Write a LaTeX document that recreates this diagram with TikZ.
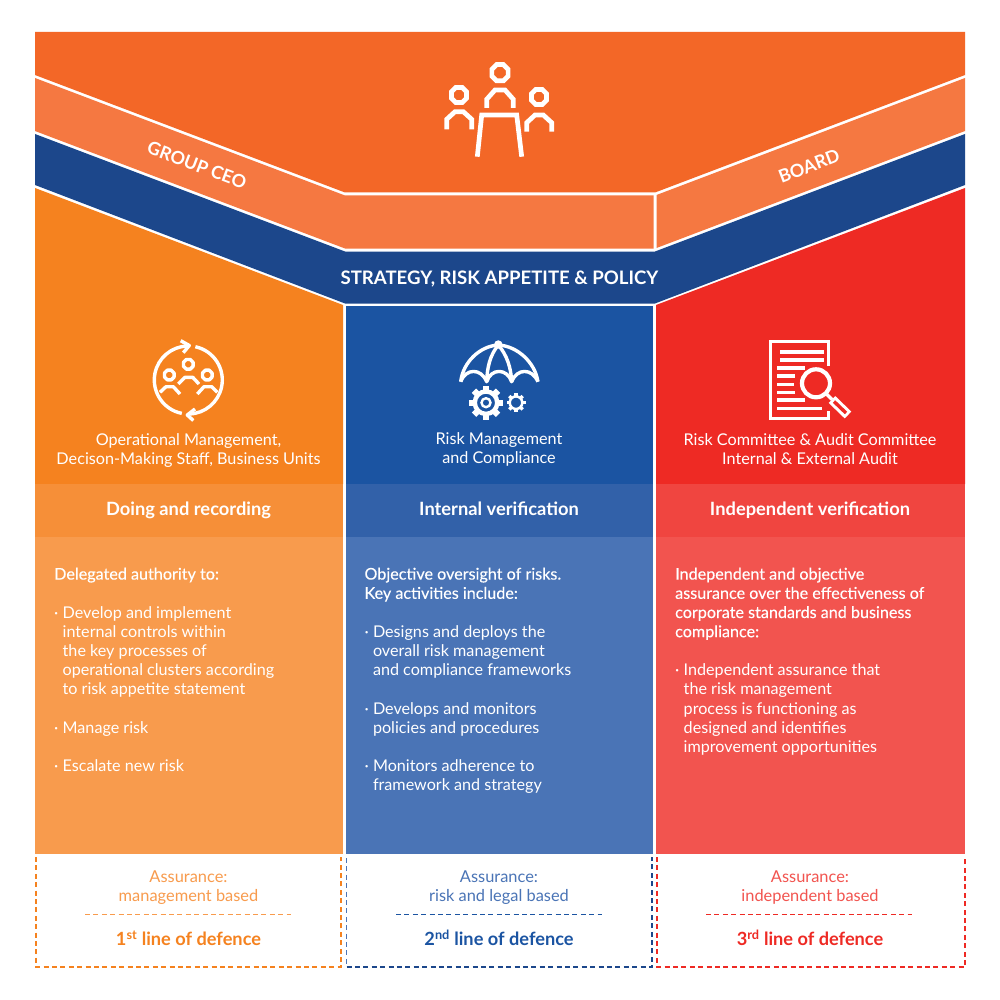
\documentclass[tikz,border=0pt]{standalone}
\usepackage{fontspec}
\setmainfont{Lato}
\newfontfamily\medfont[FakeBold=0.25]{Lato}
\definecolor{topor}{HTML}{F36727}
\definecolor{bandor}{HTML}{F57841}
\definecolor{bandbl}{HTML}{1C478B}
\definecolor{orA}{HTML}{F5821F}
\definecolor{orB}{HTML}{F68F38}
\definecolor{orC}{HTML}{F89B4D}
\definecolor{blA}{HTML}{1B54A2}
\definecolor{blB}{HTML}{3261A9}
\definecolor{blC}{HTML}{4A74B6}
\definecolor{reA}{HTML}{EE2A24}
\definecolor{reB}{HTML}{F04540}
\definecolor{reC}{HTML}{F2544F}
\tikzset{
  x=1pt,y=-1pt,
  icon/.style={draw=white,line width=4.7pt,miter limit=3},
  iconthin/.style={draw=white,line width=3.4pt,line join=round},
  bodytxt/.style={anchor=north west,inner sep=0pt,text=white,align=left,font=\fontsize{16.15}{19.2}\selectfont},
  subtxt/.style={inner sep=0pt,text=white,align=center,font=\fontsize{16.2}{19}\selectfont},
  headtxt/.style={inner sep=0pt,text=white,text height=13pt,text depth=4pt,font=\fontsize{18.3}{20}\selectfont\bfseries},
  asstxt/.style={inner sep=0pt,align=center,font=\fontsize{16.4}{19}\selectfont},
  linetxt/.style={inner sep=0pt,font=\fontsize{18.2}{20}\selectfont\bfseries},
  bandtxt/.style={inner sep=0pt,text=white,font=\fontsize{18.6}{20}\selectfont\bfseries},
  angletxt/.style={inner sep=0pt,text=white,font=\fontsize{18}{20}\selectfont\bfseries},
  dashbox/.style={line width=1.3pt,dash pattern=on 5pt off 3.4pt},
}
\newcommand{\blt}{\makebox[8.5pt][l]{·}}
\newcommand{\ind}{\hspace*{8.5pt}}
\newcommand{\octring}[4]{% x y r style
  \draw[#4] (#1,#2) +(22.5:#3pt) -- +(67.5:#3pt) -- +(112.5:#3pt) -- +(157.5:#3pt) -- +(202.5:#3pt) -- +(247.5:#3pt) -- +(292.5:#3pt) -- +(337.5:#3pt) -- cycle;
}
\newcommand{\gearicon}[4]{% x y r n
  \draw[draw=white,line width=#3*0.26pt] (#1,#2) circle[radius=#3*0.66pt];
  \pgfmathtruncatemacro{\gstep}{360/#4}
  \foreach \ga in {1,...,#4}{
    \draw[draw=white,line width=#3*0.36pt] (#1,#2) ++({\ga*\gstep}:#3*0.66pt) -- ++({\ga*\gstep}:#3*0.34pt);
  }
}
\begin{document}
\begin{tikzpicture}
\useasboundingbox (0,0) rectangle (1000,1000);
\fill[white] (0,0) rectangle (1000,1000);
% top bands
\fill[topor] (35,32) -- (965,32) -- (965,75) -- (655,192.5) -- (345,192.5) -- (35,75) -- cycle;
\fill[bandor] (35,78) -- (345,195.5) -- (653.5,195.5) -- (653.5,248.5) -- (345,248.5) -- (35,131) -- cycle;
\fill[bandor] (656.5,195) -- (965,78) -- (965,131) -- (656.5,248) -- cycle;
\fill[bandbl] (35,134) -- (345,251.5) -- (655,251.5) -- (965,134) -- (965,185) -- (655,303.5) -- (345,303.5) -- (35,185) -- cycle;
% columns
\fill[orA] (35,188) -- (343,305) -- (343,484) -- (35,484) -- cycle;
\fill[orB] (35,484) rectangle (343,537);
\fill[orC] (35,537) rectangle (343,854);
\fill[blA] (346,306) rectangle (653,484);
\fill[blB] (346,484) rectangle (653,537);
\fill[blC] (346,537) rectangle (653,854);
\fill[reA] (965,188) -- (656,305) -- (656,484) -- (965,484) -- cycle;
\fill[reB] (656,484) rectangle (965,537);
\fill[reC] (656,537) rectangle (965,854);
% band labels
\node[angletxt,rotate=-20.8] (ceo) at (197,165) {GROUP CEO};
\node[angletxt,rotate=20.8] (board) at (809,166) {BOARD};
\node[bandtxt] (strategy) at (499.5,279) {STRATEGY, RISK APPETITE \& POLICY};
% board icon
\octring{500}{72.7}{8.8}{icon}
\octring{459}{95}{8.2}{icon}
\octring{539}{97}{8.2}{icon}
\draw[icon] (486.7,108) -- (486.7,99.3) -- (495,90) -- (505,90) -- (513.3,99.3) -- (513.3,108);
\draw[icon] (446.7,129.3) -- (446.7,119.3) -- (455,111.7) -- (463.3,111.7) -- (471.7,119.3) -- (471.7,129.3);
\draw[icon] (526.7,131.7) -- (526.7,122.7) -- (535,115) -- (543.3,115) -- (551.7,122.7) -- (551.7,131.7);
\draw[icon] (477.3,156.7) -- (481.7,115) -- (516.7,115) -- (521.7,156.7);
% cycle icon
\draw[iconthin] (188.3,380) ++(259:34pt) arc[start angle=259,end angle=92,radius=34pt];
\draw[iconthin] (188.3,380) ++(78:34pt) arc[start angle=78,end angle=-88,radius=34pt];
\draw[iconthin] (180.7,340.7) -- (189.3,345.5) -- (183.3,352.7);
\draw[iconthin] (195,409) -- (187.3,415) -- (193.3,420.5);
\octring{188.3}{364.3}{5.2}{iconthin}
\octring{169.3}{375}{5.2}{iconthin}
\octring{207.3}{375}{5.2}{iconthin}
\draw[iconthin] (178.3,384) -- (185,377.3) -- (192.7,377.3) -- (199,384);
\draw[iconthin] (160,392.3) -- (166,386.7) -- (173.3,386.7) -- (180,394);
\draw[iconthin] (197.3,394) -- (204,386.7) -- (211.7,386.7) -- (217.3,392.3);
% umbrella icon
\fill[white] (498.3,344.5) circle[radius=4.2pt];
\draw[iconthin] (460.7,381.7) .. controls (463,362) and (480,346) .. (498.3,345) .. controls (517,346) and (535,362) .. (537.9,381.7);
\draw[iconthin] (460.7,381.7) .. controls (466,368) and (481,368) .. (486.7,381.7) .. controls (491,368) and (507,368) .. (511.7,381.7) .. controls (517,368) and (532,368) .. (537.9,381.7);
\draw[iconthin] (498.3,345) .. controls (490,355) and (487,368) .. (486.7,381.7);
\draw[iconthin] (498.3,345) .. controls (507,355) and (511,368) .. (511.7,381.7);
\gearicon{486}{402.7}{17}{8}
\draw[draw=white,line width=2.4pt] (486,402.7) circle[radius=4.5pt];
\gearicon{516}{402.7}{9.5}{8}
% audit icon
\draw[iconthin,line join=miter] (828.3,366) -- (828.3,341.7) -- (770.7,341.7) -- (770.7,418.3) -- (828.3,418.3) -- (828.3,411);
\foreach \lx/\ly/\rx in {780/351.7/824,780/360/824,777.3/367.7/805,777.3/376/795,777.3/384.3/794.3,777.3/392.3/795,777.3/400/805,777.3/408.3/821.7}{
  \draw[white,line width=3.6pt] (\lx,\ly) -- (\rx,\ly);
}
\draw[icon,line width=4.2pt] (816,383.3) circle[radius=14pt];
\draw[white,line width=3.4pt] (826,393.5) -- (832,399.5);
\draw[white,line width=9.5pt] (832,399.5) -- (848,415);
\draw[reA,line width=3.4pt] (834,401.5) -- (846,413);
% column captions
\node[subtxt] (capA) at (188.5,450.5) {Operational Management,\\Decison-Making Staff, Business Units};
\node[subtxt] (capB) at (499,449) {Risk Management\\and Compliance};
\node[subtxt] (capC) at (810,449.5) {Risk Committee \& Audit Committee\\Internal \& External Audit};
\node[headtxt] (headA) at (188.5,511) {Doing and recording};
\node[headtxt] (headB) at (499,511) {Internal verification};
\node[headtxt] (headC) at (810,511) {Independent verification};
% bodies
\node[bodytxt] (bodyA) at (54,567.5) {{\medfont Delegated authority to:}\\[19.2pt]
\blt Develop and implement\\\ind internal controls within\\\ind the key processes of\\\ind operational clusters according\\\ind to risk appetite statement\\[19.2pt]
\blt Manage risk\\[19.2pt]
\blt Escalate new risk};
\node[bodytxt] (bodyB) at (364.3,567.5) {{\medfont Objective oversight of risks.}\\{\medfont Key activities include:}\\[19.2pt]
\blt Designs and deploys the\\\ind overall risk management\\\ind and compliance frameworks\\[19.2pt]
\blt Develops and monitors\\\ind policies and procedures\\[19.2pt]
\blt Monitors adherence to\\\ind framework and strategy};
\node[bodytxt] (bodyC) at (675,567.5) {{\medfont Independent and objective}\\{\medfont assurance over the effectiveness of}\\{\medfont corporate standards and business}\\{\medfont compliance:}\\[19.2pt]
\blt Independent assurance that\\\ind the risk management\\\ind process is functioning as\\\ind designed and identifies\\\ind improvement opportunities};
% assurance boxes
\draw[dashbox,draw=orA] (36,857) -- (36,967) -- (341,967) -- (341,857);
\draw[dashbox,draw=blC] (346.5,858) -- (346.5,967);
\draw[dashbox,draw=bandbl] (346.5,967) -- (652,967) -- (652,857);
\draw[dashbox,draw=reA] (657,857) -- (657,967) -- (965,967) -- (965,857);
\node[asstxt,text=orC] (assA) at (188.5,887.5) {Assurance:\\management based};
\node[asstxt,text=blC] (assB) at (499,887.5) {Assurance:\\risk and legal based};
\node[asstxt,text=reC] (assC) at (810,887.5) {Assurance:\\independent based};
\coordinate (divAl) at (85,914); \coordinate (divAr) at (291,914);
\coordinate (divBl) at (396,914); \coordinate (divBr) at (602,914);
\coordinate (divCl) at (706,914); \coordinate (divCr) at (912,914);
\draw[dashbox,line width=1pt,draw=orC] (divAl) -- (divAr);
\draw[dashbox,line width=1pt,draw=blA] (divBl) -- (divBr);
\draw[dashbox,line width=1pt,draw=reA] (divCl) -- (divCr);
\node[linetxt,text=orA] (lineA) at (188.5,938) {1\textsuperscript{st} line of defence};
\node[linetxt,text=blA] (lineB) at (499,938) {2\textsuperscript{nd} line of defence};
\node[linetxt,text=reA] (lineC) at (810,938) {3\textsuperscript{rd} line of defence};
\end{tikzpicture}
\end{document}
